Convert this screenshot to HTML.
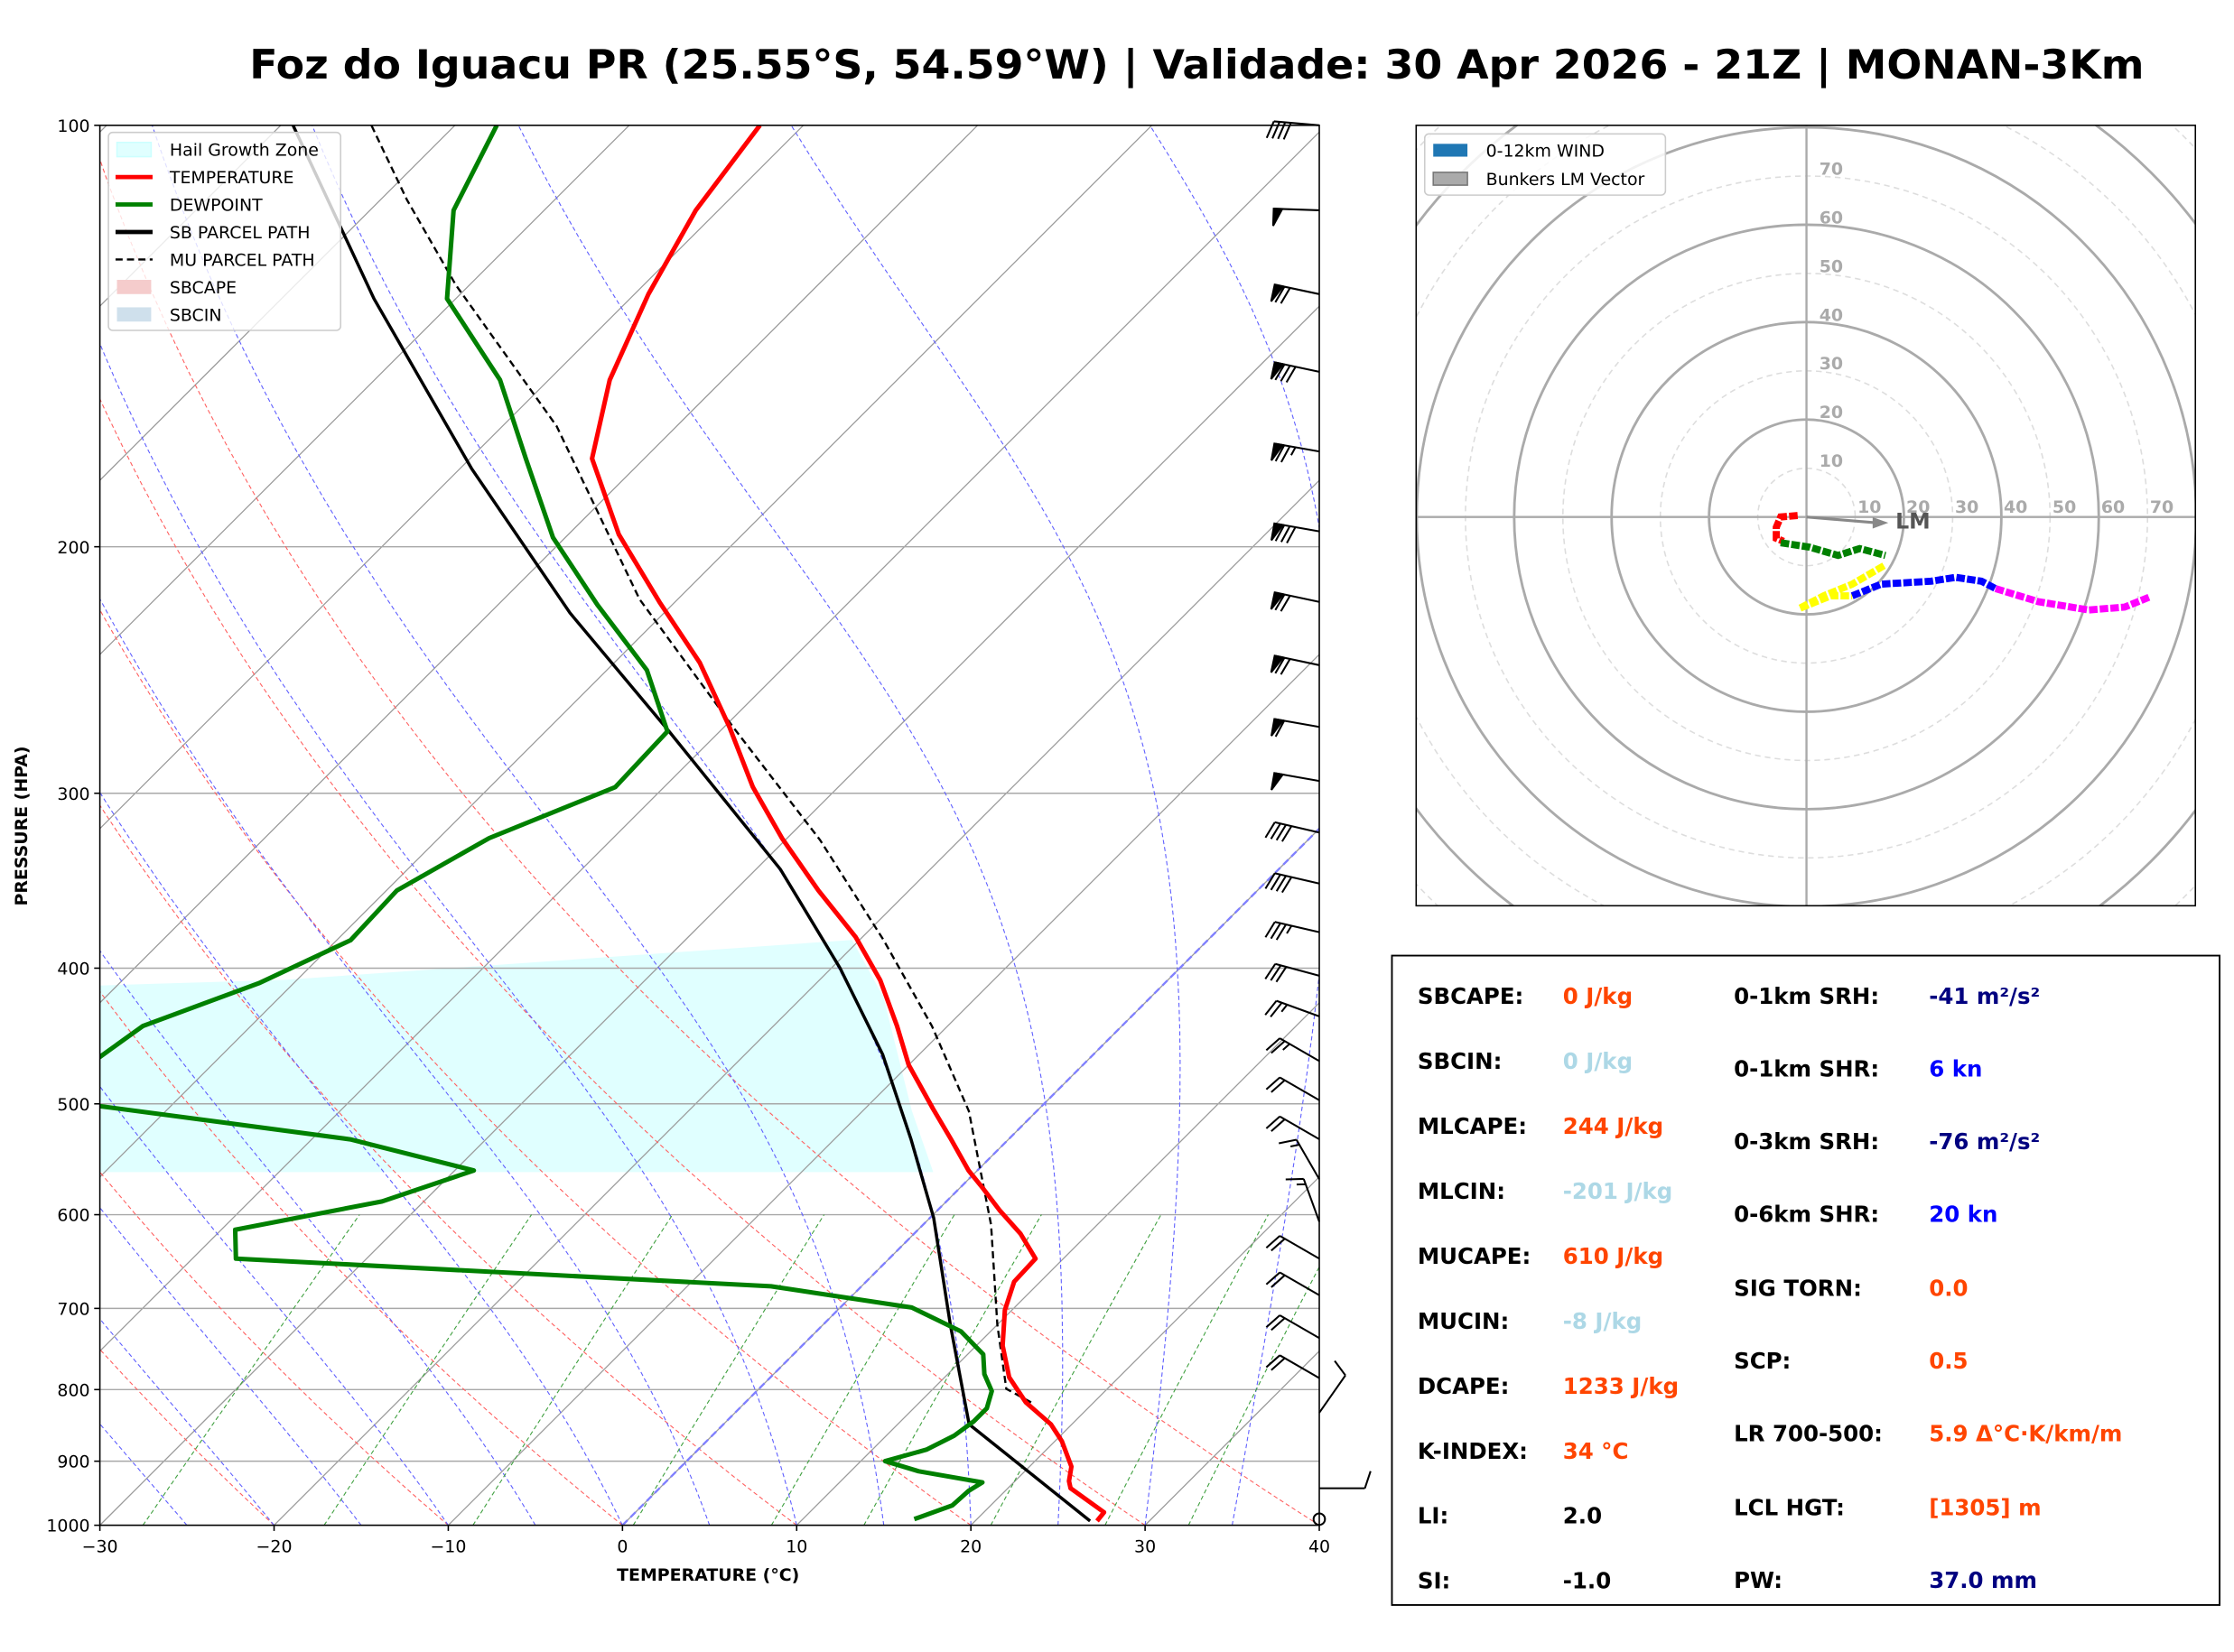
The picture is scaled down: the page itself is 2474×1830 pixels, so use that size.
<!DOCTYPE html>
<html><head><meta charset="utf-8">
<style>
html,body{margin:0;padding:0;background:#fff;}
svg{display:block;font-family:"DejaVu Sans","Liberation Sans",sans-serif;}
</style></head>
<body>
<svg id="c" width="2474" height="1830" viewBox="0 0 1568 1160" xmlns="http://www.w3.org/2000/svg">
<rect x="0" y="0" width="1568" height="1160" fill="#fff"/>
<text x="840" y="55" text-anchor="middle" font-size="28" font-weight="bold" textLength="1330" lengthAdjust="spacingAndGlyphs">Foz do Iguacu PR (25.55°S, 54.59°W) | Validade: 30 Apr 2026 - 21Z | MONAN-3Km</text>
<defs>
<clipPath id="skclip"><rect x="70" y="88" width="856" height="983"/></clipPath>
<clipPath id="hdclip"><rect x="994" y="88" width="547" height="548"/></clipPath>
</defs>
<g id="skew"></g>
<g id="hodo"></g>
<g id="stats"></g>
</svg>
<script>
// ===== Sounding data =====
const tempP = [993,979,941,930,908,871,847,817,784,744,702,670,645,619,596,575,558,530,504,469,440,408,380,352,323,297,269,242,219,196,173,152,132,115,100];
const tempT = [27.0,26.9,23.6,23.1,22.4,20.4,18.8,16.1,13.7,11.5,9.6,8.5,8.4,6.1,3.6,1.4,-0.5,-3.3,-6.1,-10,-12.9,-16.5,-20.4,-25.2,-30.3,-34.9,-39.7,-45.1,-50.9,-57.1,-63,-66.5,-69.2,-71.3,-72.5];
const dewP = [990,968,945,932,915,900,883,863,843,825,802,780,755,727,699,675,662,645,615,587,558,530,502,485,463,440,410,382,352,323,297,271,245,220,197,173,152,133,115,100];
const dewT = [16.4,17.8,17.9,18.2,13.9,11.4,13.1,13.9,14.2,14.2,13.5,12.1,10.9,8.3,4.1,-5.2,-19,-37.5,-39.2,-32.4,-28.9,-37.8,-54,-65,-56.9,-56.2,-52,-49.2,-49.4,-47.1,-42.8,-43,-47.7,-54.3,-60.7,-66.8,-72.8,-80.5,-85.2,-87.6];
const sbP = [993,847,719,603,530,461,400,340,271,223,176,133,100];
const sbT = [26.6,14.1,7.3,0.2,-5.6,-12.1,-19.5,-28.6,-42.9,-55.4,-69.3,-84.7,-99.3];
const muP = [817,799,719,610,506,440,382,324,269,218,164,130,113,100];
const muT = [16.4,14.2,10,3.9,-3.9,-10.9,-18.6,-28,-39.5,-52.2,-66.9,-80.8,-88.5,-94.8];
const windP = [100,115,132,150,171,195,219,243,269,294,320,348,377,405,433,466,497,530,566,607,645,685,735,785,831,941];
const windDir = [275,272,282,282,280,280,282,282,280,280,283,283,283,285,290,300,300,300,330,340,300,300,300,300,35,90];
const windSpd = [40,50,70,80,75,80,70,70,60,50,40,40,35,30,25,25,20,20,15,15,20,20,20,20,10,10];
const xTicks = [-30,-20,-10,0,10,20,30,40];
const pTicks = [100,200,300,400,500,600,700,800,900,1000];
// hodograph segments (u,v in kn)
const hodoRedU = [-1.8,-5.3,-6.2,-6.2,-4.7];
const hodoRedV = [0.3,0,-2.1,-4.4,-5];
const hodoGreenU = [-5.3,0.6,6.5,10.9,16.2];
const hodoGreenV = [-5.3,-6.2,-7.9,-6.5,-7.9];
const hodoYellowU = [15.9,9.4,3.5,-1.5,5,9.4];
const hodoYellowV = [-10,-13.8,-16.2,-18.8,-16.2,-16.2];
const hodoBlueU = [9.4,15.3,25.6,30.6,35.9,38.8];
const hodoBlueV = [-16.2,-13.8,-13.2,-12.4,-13.2,-14.7];
const hodoMagU = [38.8,47.6,57.9,65.3,70.3];
const hodoMagV = [-14.7,-17.4,-19.1,-18.5,-16.5];
const lmU = 16.8, lmV = -1.2;

const NS="http://www.w3.org/2000/svg";
function mk(parent,tag,attrs,text){const e=document.createElementNS(NS,tag);for(const k in attrs)e.setAttribute(k,attrs[k]);if(text!==undefined)e.textContent=text;parent.appendChild(e);return e;}

const L=70,R=926,TOP=88,B=1071,sx=(R-L)/70;
function yP(p){return TOP+(Math.log10(p)-2)*(B-TOP);}
function xT(t,p){return L+(t+30)*sx+(B-yP(p));}
function pathFrom(ps,ts){return ps.map((p,i)=>(i?'L':'M')+xT(ts[i],p).toFixed(1)+','+yP(p).toFixed(1)).join(' ');}

const sk=document.getElementById('skew');
const clipG=mk(sk,'g',{'clip-path':'url(#skclip)'});



let hg=mk(clipG,'polygon',{points:'70,692 200,688 598,660 620,700 640,780 655,823 70,823',fill:'#e0ffff',stroke:'none'});



for(let t=-130;t<=40;t+=10){
  let l=mk(clipG,'line',{x1:xT(t,1000),y1:B,x2:xT(t,1000)+(B-TOP),y2:TOP,stroke:'#9a9a9a','stroke-width':0.8});
  
  
}
pTicks.forEach(p=>{let l=mk(clipG,'line',{x1:L,x2:R,y1:yP(p),y2:yP(p),stroke:'#a8a8a8','stroke-width':0.9});
  
  });
for(let th=-60;th<=40;th+=10){
  let d='';for(let p=1000;p>=100;p-=10){const t=(th+273.15)*Math.pow(p/1000,0.286)-273.15;d+=(d?'L':'M')+xT(t,p).toFixed(1)+','+yP(p).toFixed(1);}
  let e=mk(clipG,'path',{d:d,fill:'none',stroke:'#ff6060','stroke-width':0.7,'stroke-dasharray':'3,2'});
  
  
}
function es(tc){return 6.112*Math.exp(17.67*tc/(tc+243.5));}
for(let t0=-25;t0<=40;t0+=5){
  let t=t0+273.15,d='';
  for(let p=1000;p>=100;p-=5){
    d+=(d?'L':'M')+xT(t-273.15,p).toFixed(1)+','+yP(p).toFixed(1);
    const e=es(t-273.15),rs=0.622*e/(p-e),Lv=2.5e6,Rd=287,cp=1005;
    const dTdp=(Rd*t+Lv*rs)/(cp+Lv*Lv*rs*0.622/(Rd*t*t))/p;
    t-=dTdp*5;
  }
  let e=mk(clipG,'path',{d:d,fill:'none',stroke:'#6060ff','stroke-width':0.7,'stroke-dasharray':'3,2'});
  
  
}
[0.0004,0.001,0.002,0.004,0.007,0.01,0.016,0.024,0.032].forEach(w=>{
  let d='';for(let p=1000;p>=600;p-=20){const e=p*w/(0.622+w),ln=Math.log(e/6.112),td=243.5*ln/(17.67-ln);d+=(d?'L':'M')+xT(td,p).toFixed(1)+','+yP(p).toFixed(1);}
  let e=mk(clipG,'path',{d:d,fill:'none',stroke:'#40a040','stroke-width':0.7,'stroke-dasharray':'3,2'});
  
  
});
let z=mk(clipG,'line',{x1:xT(0,1000),y1:B,x2:xT(0,1000)+(B-TOP),y2:TOP,stroke:'#8080ff','stroke-width':1.5,'stroke-dasharray':'5,3'});



let e;
e=mk(clipG,'path',{d:pathFrom(muP,muT),fill:'none',stroke:'#000','stroke-width':1.5,'stroke-dasharray':'5,3'});


e=mk(clipG,'path',{d:pathFrom(sbP,sbT),fill:'none',stroke:'#000','stroke-width':2.2});


e=mk(clipG,'path',{d:pathFrom(dewP,dewT),fill:'none',stroke:'#008000','stroke-width':3.2,'stroke-linejoin':'round'});


e=mk(clipG,'path',{d:pathFrom(tempP,tempT),fill:'none',stroke:'#ff0000','stroke-width':3.2,'stroke-linejoin':'round'});



e=mk(sk,'rect',{x:L,y:TOP,width:R-L,height:B-TOP,fill:'none',stroke:'#000','stroke-width':1});


xTicks.forEach(t=>{const x=L+(t+30)*sx;mk(sk,'line',{x1:x,x2:x,y1:B,y2:B+4,stroke:'#000'});
  let tx=mk(sk,'text',{x:x,y:B+19,'text-anchor':'middle','font-size':12},t<0?'\u2212'+(-t):String(t));
  
  });
pTicks.forEach(p=>{const y=yP(p);mk(sk,'line',{x1:L-4,x2:L,y1:y,y2:y,stroke:'#000'});
  let tx=mk(sk,'text',{x:L-7,y:y+4.5,'text-anchor':'end','font-size':12},String(p));
  
  });
e=mk(sk,'text',{x:497,y:1110,'text-anchor':'middle','font-size':12,'font-weight':'bold'},'TEMPERATURE (°C)');


e=mk(sk,'text',{x:19,y:580,'text-anchor':'middle','font-size':12,'font-weight':'bold',transform:'rotate(-90 19 580)'},'PRESSURE (HPA)');



const bx=926;
windP.forEach((p,i)=>{
  const g=mk(sk,'g',{stroke:'#000','stroke-width':1.3,fill:'#000'});
  
  
  const y=yP(p),a=windDir[i]*Math.PI/180,dx=Math.sin(a),dy=-Math.cos(a),len=32;
  const ex=bx+dx*len,ey=y+dy*len;
  mk(g,'line',{x1:bx,y1:y,x2:ex,y2:ey});
  const px=dy,py=-dx;
  let s=windSpd[i],pos=0;
  const pt=(o)=>[bx+dx*(len-o),y+dy*(len-o)];
  while(s>=50){const a1=pt(pos),a2=pt(pos+6);mk(g,'polygon',{points:`${a1[0]},${a1[1]} ${a2[0]},${a2[1]} ${a1[0]+px*12},${a1[1]+py*12}`});pos+=7;s-=50;}
  while(s>=10){const a1=pt(pos);mk(g,'line',{x1:a1[0],y1:a1[1],x2:a1[0]+px*12+dx*4,y2:a1[1]+py*12+dy*4});pos+=4;s-=10;}
  if(s>=5){if(pos===0)pos=4;const a1=pt(pos);mk(g,'line',{x1:a1[0],y1:a1[1],x2:a1[0]+px*6+dx*2,y2:a1[1]+py*6+dy*2});}
});
e=mk(sk,'circle',{cx:bx,cy:yP(990),r:4,fill:'none',stroke:'#000','stroke-width':1.3});



const lg=mk(sk,'g',{});


mk(lg,'rect',{x:76,y:93,width:163,height:139,rx:3,fill:'#fff','fill-opacity':0.8,stroke:'#ccc'});
const items=[['Hail Growth Zone','patch','#e0ffff'],['TEMPERATURE','line','#ff0000'],['DEWPOINT','line','#008000'],['SB PARCEL PATH','line','#000'],['MU PARCEL PATH','dash','#000'],['SBCAPE','patch','#f5cccc'],['SBCIN','patch','#cfe0ec']];
items.forEach((it,i)=>{const y=105+i*19.3;
  if(it[1]==='patch')mk(lg,'rect',{x:82,y:y-5,width:24,height:10,fill:it[2],stroke:it[0].startsWith('Hail')?'#ccffff':'none'});
  else mk(lg,'line',{x1:81,x2:107,y1:y,y2:y,stroke:it[2],'stroke-width':it[1]==='dash'?1.5:3,'stroke-dasharray':it[1]==='dash'?'5,3':'none'});
  let t=mk(lg,'text',{x:119,y:y+4.5,'font-size':12},it[0]);
  
  });

// ===== Hodograph =====
const hd=document.getElementById('hodo');
const cx=1268,cy=363,ks=3.42;
const hc=mk(hd,'g',{'clip-path':'url(#hdclip)'});
for(let r=10;r<=110;r+=10){mk(hc,'circle',{cx:cx,cy:cy,r:r*ks,fill:'none',stroke:r%20===0?'#aaa':'#ddd','stroke-width':r%20===0?1.8:1,'stroke-dasharray':r%20===0?'none':'4,3'});}
mk(hc,'line',{x1:994,x2:1541,y1:cy,y2:cy,stroke:'#aaa','stroke-width':1.5});
mk(hc,'line',{x1:cx,x2:cx,y1:88,y2:636,stroke:'#aaa','stroke-width':1.5});
for(let r=10;r<=70;r+=10){
  mk(hd,'text',{x:cx+r*ks+10,y:cy-3,'text-anchor':'middle','font-size':12,'font-weight':'bold',fill:'#aaa'},String(r));
  mk(hd,'text',{x:cx+9,y:cy-r*ks-1,'font-size':12,'font-weight':'bold',fill:'#aaa'},String(r));
}
function hpath(us,vs,col,name){let d=us.map((u,i)=>(i?'L':'M')+(cx+u*ks).toFixed(1)+','+(cy-vs[i]*ks).toFixed(1)).join(' ');
  let p=mk(hc,'path',{d:d,fill:'none',stroke:col,'stroke-width':5,'stroke-dasharray':'6,1.5'});
  
  }
hpath(hodoRedU,hodoRedV,'#ff0000','hodo-0-1km');
hpath(hodoGreenU,hodoGreenV,'#008000','hodo-1-3km');
hpath(hodoYellowU,hodoYellowV,'#ffff00','hodo-3-6km');
hpath(hodoBlueU,hodoBlueV,'#0000ff','hodo-6-9km');
hpath(hodoMagU,hodoMagV,'#ff00ff','hodo-9-12km');
const lx=cx+lmU*ks,ly=cy-lmV*ks;
e=mk(hd,'line',{x1:cx,y1:cy,x2:lx-8,y2:ly,stroke:'#888','stroke-width':2});


mk(hd,'polygon',{points:`${lx},${ly} ${lx-11},${ly-4} ${lx-11},${ly+4}`,fill:'#888'});
mk(hd,'text',{x:lx+5,y:ly+4,'font-size':15,'font-weight':'bold',fill:'#555'},'LM');
mk(hd,'rect',{x:994,y:88,width:547,height:548,fill:'none',stroke:'#000'});
const hl=mk(hd,'g',{});


mk(hl,'rect',{x:1000,y:94,width:169,height:43,rx:3,fill:'#fff','fill-opacity':0.85,stroke:'#ccc'});
mk(hl,'rect',{x:1006,y:101,width:24,height:9,fill:'#1f77b4'});
mk(hl,'text',{x:1043,y:110,'font-size':12},'0-12km WIND');
mk(hl,'rect',{x:1006,y:121,width:24,height:9,fill:'#aaa',stroke:'#777'});
mk(hl,'text',{x:1043,y:130,'font-size':12},'Bunkers LM Vector');

// ===== Stats =====
const st=document.getElementById('stats');
mk(st,'rect',{x:977,y:671,width:581,height:456,fill:'#fff',stroke:'#000','stroke-width':1.2});
const OR='#ff4500',LB='#add8e6',NV='#000080',BL='#0000ff';
const left=[['SBCAPE:','0 J/kg',OR],['SBCIN:','0 J/kg',LB],['MLCAPE:','244 J/kg',OR],['MLCIN:','-201 J/kg',LB],['MUCAPE:','610 J/kg',OR],['MUCIN:','-8 J/kg',LB],['DCAPE:','1233 J/kg',OR],['K-INDEX:','34 °C',OR],['LI:','2.0','#000'],['SI:','-1.0','#000']];
const right=[['0-1km SRH:','-41 m²/s²',NV],['0-1km SHR:','6 kn',BL],['0-3km SRH:','-76 m²/s²',NV],['0-6km SHR:','20 kn',BL],['SIG TORN:','0.0',OR],['SCP:','0.5',OR],['LR 700-500:','5.9 Δ°C·K/km/m',OR],['LCL HGT:','[1305] m',OR],['PW:','37.0 mm',NV]];
left.forEach((r,i)=>{const y=705+i*45.6;
  let a=mk(st,'text',{x:995,y:y,'font-size':15.5,'font-weight':'bold'},r[0]);
  let b=mk(st,'text',{x:1097,y:y,'font-size':15.5,'font-weight':'bold',fill:r[2]},r[1]);});
const ry=[705,756,807,858,910,961,1012,1064,1115];
right.forEach((r,i)=>{const y=ry[i];
  let a=mk(st,'text',{x:1217,y:y,'font-size':15.5,'font-weight':'bold'},r[0]);
  let b=mk(st,'text',{x:1354,y:y,'font-size':15.5,'font-weight':'bold',fill:r[2]},r[1]);});
</script>
</body></html>
